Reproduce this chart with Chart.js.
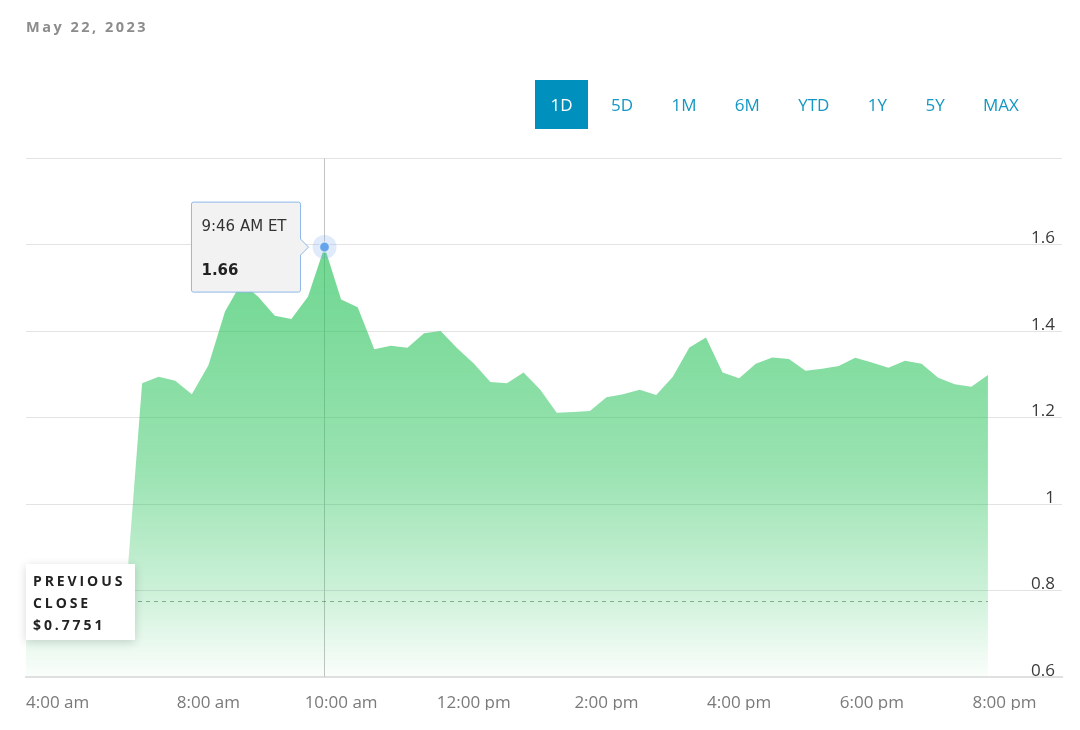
<!DOCTYPE html>
<html>
<head>
<meta charset="utf-8">
<script src="https://cdn.jsdelivr.net/npm/chart.js@4.4.0/dist/chart.umd.min.js"></script>
<style>
  html, body { margin: 0; padding: 0; background: #fff; }
  #wrap { position: relative; width: 1080px; height: 730px; overflow: hidden; font-family: "Open Sans", sans-serif; }
  #chart { position: absolute; left: 0; top: 0; }
  .date { position: absolute; left: 26px; top: 17px; font-size: 14.5px; font-weight: bold; color: #8c8c8c; letter-spacing: 2.5px; }
  .ranges { position: absolute; left: 535px; top: 80px; display: flex; gap: 7.4px; }
  .ranges span { display: block; height: 49px; line-height: 50px; padding: 0 15.5px; font-size: 17px; color: #1597c3; }
  .ranges span.on { background: #0090be; color: #fff; }
  .prev { position: absolute; left: 26px; width: 102px; height: 70px; padding: 6px 0 0 7px; background: #fff;
          box-shadow: 0 2px 9px rgba(0,0,0,0.16); font-size: 14px; font-weight: bold; color: #222; letter-spacing: 2.9px; line-height: 22px; }
</style>
</head>
<body>
<div id="wrap">
  <canvas id="chart" width="1080" height="730"></canvas>
  <div class="date">May 22, 2023</div>
  <div class="ranges" id="ranges"></div>
  <div class="prev" id="prevBox">PREVIOUS<br>CLOSE<br>$0.7751</div>
</div>
<script>
// minutes since midnight, one point every 15 min
const minutes = [315, 330, 345, 360, 375, 390, 405,
    420, 435, 450, 465, 480, 495, 510, 525, 540, 555, 570, 585, 600, 615, 630, 645, 660, 675,
    690, 705, 720, 735, 750, 765, 780, 795, 810, 825, 840, 855, 870, 885, 900, 915, 930, 945,
    960, 975, 990, 1005, 1020, 1035, 1050, 1065, 1080, 1095, 1110, 1125, 1140, 1155, 1170, 1185];
const prices = [0.78, 0.78, 0.78, 0.78, 0.78, 0.78, 0.78,
    1.279, 1.294, 1.285, 1.254, 1.321, 1.445, 1.512, 1.479, 1.435, 1.428, 1.479, 1.594, 1.473, 1.455,
    1.358, 1.366, 1.361, 1.395, 1.400, 1.360, 1.325, 1.282, 1.279, 1.304, 1.265, 1.211, 1.213, 1.215,
    1.247, 1.254, 1.264, 1.252, 1.294, 1.362, 1.385, 1.304, 1.291, 1.324, 1.339, 1.335, 1.308, 1.313,
    1.319, 1.338, 1.327, 1.315, 1.331, 1.324, 1.292, 1.277, 1.271, 1.298];

const xMin = 315, xMax = 1252;
const xTickValues = [315, 480, 600, 720, 840, 960, 1080, 1200, 1252];
const xTickLabels = ['4:00 am', '8:00 am', '10:00 am', '12:00 pm', '2:00 pm', '4:00 pm', '6:00 pm', '8:00 pm', ''];
const yTickValues = [0.6, 0.8, 1, 1.2, 1.4, 1.6, 1.8];
const yTickLabels = ['0.6', '0.8', '1', '1.2', '1.4', '1.6', ''];

const prevClose = 0.7751;
const rangeButtons = ['1D', '5D', '1M', '6M', 'YTD', '1Y', '5Y', 'MAX'];
const tooltipTitle = '9:46 AM ET';
const tooltipValue = '1.66';

document.getElementById('ranges').innerHTML = rangeButtons
    .map((r, i) => `<span class="${i === 0 ? 'on' : ''}">${r}</span>`).join('');

const peakIndex = prices.indexOf(Math.max(...prices));

// crosshair under the fill, prev close line + marker over it
const overlayPlugin = {
    id: 'overlay',
    beforeDatasetsDraw(chart) {
        const { ctx, chartArea } = chart;
        const active = chart.getActiveElements();
        if (!active.length) return;
        const x = Math.round(active[0].element.x) - 0.5;
        ctx.save();
        ctx.strokeStyle = '#c4c4c4';
        ctx.lineWidth = 1;
        ctx.beginPath();
        ctx.moveTo(x, chartArea.top);
        ctx.lineTo(x, chartArea.bottom);
        ctx.stroke();
        ctx.restore();
    },
    afterDatasetsDraw(chart) {
        const { ctx, chartArea, scales } = chart;
        const y = Math.round(scales.y.getPixelForValue(prevClose)) + 0.5;
        const xEnd = scales.x.getPixelForValue(minutes[minutes.length - 1]);
        ctx.save();
        ctx.strokeStyle = 'rgba(85,135,95,0.65)';
        ctx.lineWidth = 1;
        ctx.setLineDash([4, 4]);
        ctx.beginPath();
        ctx.moveTo(chartArea.left, y);
        ctx.lineTo(xEnd, y);
        ctx.stroke();
        ctx.setLineDash([]);

        const active = chart.getActiveElements();
        if (active.length) {
            const p = active[0].element;
            ctx.fillStyle = 'rgba(110,165,232,0.22)';
            ctx.beginPath();
            ctx.arc(p.x, p.y, 12, 0, Math.PI * 2);
            ctx.fill();
            ctx.fillStyle = '#64a4ec';
            ctx.strokeStyle = 'rgba(255,255,255,0.55)';
            ctx.lineWidth = 1.5;
            ctx.beginPath();
            ctx.arc(p.x, p.y, 5, 0, Math.PI * 2);
            ctx.fill();
            ctx.stroke();
        }
        ctx.restore();

        document.getElementById('prevBox').style.top = (y - 38) + 'px';
    }
};

const ctx = document.getElementById('chart').getContext('2d');
const chart = new Chart(ctx, {
    type: 'line',
    data: {
        datasets: [{
            data: minutes.map((m, i) => ({ x: m, y: prices[i] })),
            borderWidth: 0,
            pointRadius: 0,
            pointHoverRadius: 0,
            tension: 0,
            fill: 'start',
            backgroundColor: (c) => {
                const area = c.chart.chartArea;
                if (!area) return 'rgba(40,195,90,0.5)';
                const g = c.chart.ctx.createLinearGradient(0, area.top, 0, area.bottom);
                g.addColorStop(0, 'rgba(40,195,90,0.7)');
                g.addColorStop(0.3, 'rgba(40,195,90,0.62)');
                g.addColorStop(0.6, 'rgba(40,195,90,0.47)');
                g.addColorStop(0.82, 'rgba(40,195,90,0.25)');
                g.addColorStop(1, 'rgba(40,195,90,0.02)');
                return g;
            }
        }]
    },
    options: {
        responsive: false,
        animation: false,
        events: [],
        layout: { autoPadding: false, padding: { top: 158, right: 18, bottom: 20, left: 26 } },
        plugins: {
            legend: { display: false },
            tooltip: {
                xAlign: 'right',
                yAlign: 'center',
                backgroundColor: '#f2f2f2',
                borderColor: '#8db8ea',
                borderWidth: 1,
                cornerRadius: 2,
                caretSize: 8,
                caretPadding: 16,
                padding: { top: 16, bottom: 12, left: 10, right: 14 },
                titleFont: { family: 'DejaVu Sans', size: 15, weight: 'normal' },
                titleColor: '#333',
                titleMarginBottom: 26,
                bodyFont: { family: 'DejaVu Sans', size: 15, weight: 'bold' },
                bodyColor: '#222',
                displayColors: false,
                callbacks: {
                    title: () => tooltipTitle,
                    label: () => tooltipValue
                }
            }
        },
        scales: {
            x: {
                type: 'linear',
                min: xMin,
                max: xMax,
                grid: { display: false, drawTicks: false },
                border: { display: true, color: '#e0e0e0', width: 2 },
                afterBuildTicks: (s) => { s.ticks = xTickValues.map(v => ({ value: v })); },
                afterFit: (s) => { s.height = 33; },
                ticks: {
                    autoSkip: false,
                    maxRotation: 0,
                    align: 'inner',
                    padding: 16,
                    color: '#7a7a7a',
                    font: { family: 'Open Sans', size: 17 },
                    callback: (v, i) => xTickLabels[i]
                }
            },
            y: {
                position: 'right',
                min: 0.6,
                max: 1.8,
                grid: { color: '#e3e3e3', lineWidth: 1, drawTicks: false },
                border: { display: false },
                afterBuildTicks: (s) => { s.ticks = yTickValues.map(v => ({ value: v })); },
                afterFit: (s) => { s.width = 0; },
                ticks: {
                    mirror: true,
                    padding: -7,
                    labelOffset: -6,
                    color: '#3a3a3a',
                    font: { family: 'Open Sans', size: 17 },
                    callback: (v, i) => yTickLabels[i]
                }
            }
        }
    },
    plugins: [overlayPlugin]
});

const peakEl = chart.getDatasetMeta(0).data[peakIndex];
chart.setActiveElements([{ datasetIndex: 0, index: peakIndex }]);
chart.tooltip.setActiveElements([{ datasetIndex: 0, index: peakIndex }], { x: peakEl.x, y: peakEl.y });
chart.update();
</script>
</body>
</html>
